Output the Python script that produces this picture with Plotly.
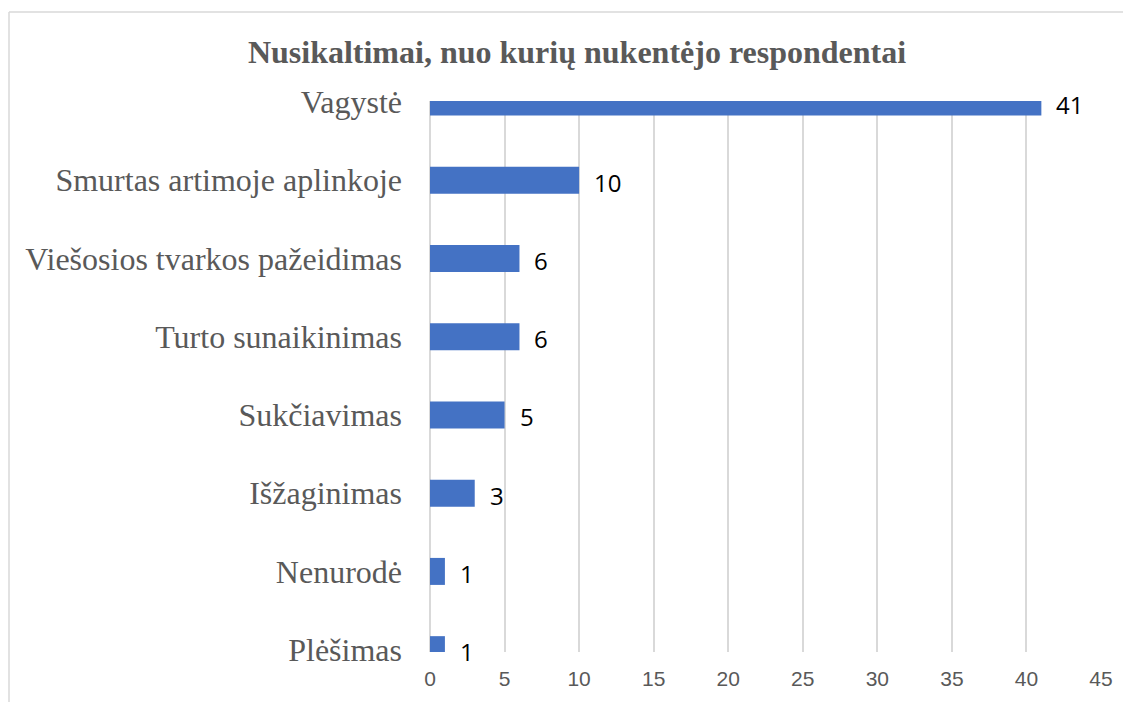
import plotly.graph_objects as go

categories = ["Vagystė", "Smurtas artimoje aplinkoje", "Viešosios tvarkos pažeidimas",
              "Turto sunaikinimas", "Sukčiavimas", "Išžaginimas", "Nenurodė", "Plėšimas"]
values = [41, 10, 6, 6, 5, 3, 1, 1]
x_ticks = [0, 5, 10, 15, 20, 25, 30, 35, 40, 45]
title_text = "Nusikaltimai, nuo kurių nukentėjo respondentai"

OFF = 8  # page body margin
W, H = 1131 - OFF, 702 - OFF
# plot area in page pixels: x 430..1101, y 101..652
ml = 430 - OFF
mr = W - (1101 - OFF)
mt = 101 - OFF
mb = H - (652 - OFF)

fig = go.Figure(go.Bar(
    x=values, y=categories, orientation="h",
    marker=dict(color="#4472C4", line=dict(width=0)),
    width=0.345, hoverinfo="x+y",
))

for v, c in zip(values, categories):
    fig.add_annotation(x=v, y=c, text=str(v), showarrow=False,
                       xanchor="left", yanchor="middle", xshift=13, yshift=-2,
                       font=dict(family="Open Sans, Liberation Sans, sans-serif", size=24, color="#000000"))

pw = W - ml - mr
ph = H - mt - mb
# chart-area border (left and top edges visible; right/bottom cropped)
bx = ((9 - OFF) - ml) / pw
by = (H - mb - (12 - OFF)) / ph
fig.add_shape(type="line", xref="paper", yref="paper", x0=bx, x1=bx, y0=by, y1=-1,
              line=dict(color="#d9d9d9", width=1.5))
fig.add_shape(type="line", xref="paper", yref="paper", x0=bx, x1=3, y0=by, y1=by,
              line=dict(color="#d9d9d9", width=1.5))

fig.update_layout(
    width=W, height=H,
    margin=dict(l=ml, r=mr, t=mt, b=mb, autoexpand=False),
    paper_bgcolor="white", plot_bgcolor="white",
    showlegend=False,
    title=dict(text="<b>" + title_text + "</b>", x=(577 - OFF) / W, xanchor="center", xref="container",
               y=1 - (52 - OFF) / H, yanchor="middle", yref="container",
               font=dict(family="Liberation Serif, Times New Roman, serif", size=32, color="#595959")),
    xaxis=dict(range=[0, 45], tickvals=x_ticks, showgrid=True, gridcolor="#d9d9d9", gridwidth=1.5,
               zeroline=True, zerolinecolor="#d9d9d9", zerolinewidth=1.5, showline=False,
               ticks="", ticklabelstandoff=12,
               tickfont=dict(family="Liberation Sans, Arial, sans-serif",
                             size=21, color="#595959")),
    yaxis=dict(type="category", categoryorder="array", categoryarray=categories,
               range=[7.03, -0.013], showgrid=False, zeroline=False, showline=False,
               ticks="", ticklabelstandoff=27,
               tickfont=dict(family="Liberation Serif, Times New Roman, serif", size=32, color="#595959")),
)

fig.write_html("out.html")
